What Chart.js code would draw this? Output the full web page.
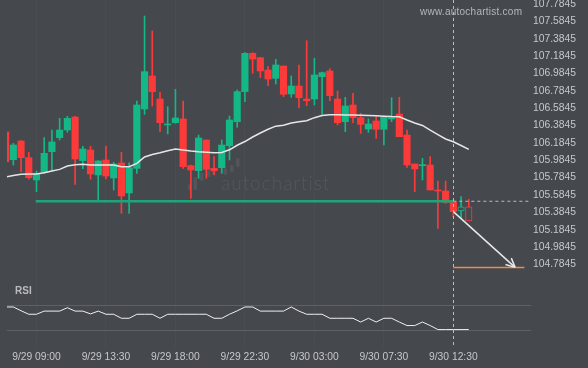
<!DOCTYPE html>
<html>
<head>
<meta charset="utf-8">
<script src="https://cdn.jsdelivr.net/npm/chart.js"></script>
<style>
  html, body { margin: 0; padding: 0; background: #45484d; }
  canvas { display: block; }
</style>
</head>
<body>
<canvas id="chart" width="588" height="368"></canvas>
<script>
// 30 minute candles, index 0 = first visible candle
const openV = [106.310, 105.991, 106.206, 106.014, 105.757, 105.845, 106.083, 106.245, 106.333, 106.483,
  105.980, 106.103, 105.815, 105.987, 105.780, 105.953, 105.607, 105.891, 106.575, 106.955,
  106.690, 106.391, 106.417, 106.460, 105.922, 105.864, 106.218, 105.891, 105.899, 106.152,
  106.429, 106.775, 107.216, 107.166, 107.024, 106.928, 107.070, 106.748, 106.840, 106.690,
  106.690, 106.947, 107.013, 106.690, 106.429, 106.621, 106.475, 106.344, 106.437, 106.341,
  106.460, 106.517, 106.275, 105.941, 105.922, 105.930, 105.642, 105.630, 105.507, 105.400,
  105.449];
const highV = [106.310, 106.179, 106.210, 106.076, 105.860, 106.245, 106.333, 106.467, 106.490, 106.490,
  106.145, 106.145, 105.980, 106.149, 105.960, 106.076, 105.956, 106.667, 107.646, 107.474,
  106.767, 106.602, 106.801, 106.667, 105.930, 106.275, 106.220, 106.026, 106.218, 106.494,
  106.794, 107.224, 107.224, 107.170, 107.063, 107.147, 107.070, 106.955, 107.082, 107.362,
  107.159, 107.000, 107.039, 106.782, 106.709, 106.755, 106.525, 106.460, 106.487, 106.494,
  106.705, 106.709, 106.333, 105.941, 106.006, 106.026, 105.745, 105.745, 105.510, 105.565,
  105.535];
const lowV = [105.968, 105.930, 105.853, 105.768, 105.622, 105.834, 105.864, 106.218, 106.306, 105.707,
  105.887, 105.765, 105.515, 105.768, 105.642, 105.373, 105.373, 105.834, 106.513, 106.609,
  106.314, 106.287, 106.410, 105.891, 105.546, 105.776, 105.776, 105.815, 105.834, 105.987,
  106.364, 106.659, 106.986, 106.936, 106.844, 106.863, 106.717, 106.709, 106.590, 106.613,
  106.621, 106.513, 106.671, 106.391, 106.314, 106.417, 106.294, 106.306, 106.237, 106.160,
  106.429, 106.256, 105.903, 105.622, 105.757, 105.642, 105.200, 105.488, 105.334, 105.316,
  105.285];
const closeV = [105.968, 106.160, 106.014, 105.784, 105.822, 106.064, 106.195, 106.333, 106.467, 105.999,
  106.114, 105.826, 105.976, 105.803, 105.941, 105.573, 105.899, 106.621, 107.005, 106.775,
  106.417, 106.402, 106.471, 105.910, 105.872, 106.241, 105.880, 105.864, 106.160, 106.448,
  106.775, 107.216, 107.151, 107.013, 106.920, 107.082, 106.744, 106.840, 106.705, 106.671,
  106.967, 106.993, 106.728, 106.417, 106.609, 106.475, 106.398, 106.402, 106.341, 106.487,
  106.475, 106.256, 105.930, 105.884, 105.930, 105.642, 105.630, 105.500, 105.392, 105.449,
  105.285];
const maV = [105.791, 105.809, 105.823, 105.825, 105.826, 105.841, 105.861, 105.879, 105.918, 105.932,
  105.937, 105.930, 105.930, 105.930, 105.929, 105.910, 105.910, 105.949, 106.022, 106.051,
  106.070, 106.094, 106.114, 106.103, 106.091, 106.082, 106.077, 106.071, 106.074, 106.105,
  106.157, 106.200, 106.252, 106.298, 106.341, 106.377, 106.388, 106.414, 106.427, 106.440,
  106.475, 106.500, 106.509, 106.508, 106.507, 106.506, 106.503, 106.500, 106.497, 106.492,
  106.488, 106.486, 106.448, 106.414, 106.385, 106.331, 106.280, 106.229, 106.198, 106.154,
  106.110];
const rsiV = [59.2, 59.2, 56.1, 53.2, 53.2, 55.8, 55.8, 55.8, 58.6, 55.8,
  55.8, 53.5, 55.8, 53.2, 53.2, 49.9, 49.9, 53.2, 53.2, 53.2,
  49.9, 53.2, 53.2, 53.2, 53.2, 53.2, 53.2, 49.9, 49.9, 53.2,
  56.0, 59.2, 59.2, 55.8, 55.8, 55.8, 55.8, 59.2, 55.8, 53.2,
  53.2, 53.2, 49.9, 49.9, 49.9, 49.9, 46.8, 49.9, 46.8, 49.9,
  49.9, 46.8, 43.9, 43.9, 46.8, 43.9, 40.6, 40.6, 40.6, 40.6,
  40.6];

const timeTicks = [4, 13, 22, 31, 40, 49, 58];
const timeLabels = ['9/29 09:00', '9/29 13:30', '9/29 18:00', '9/29 22:30', '9/30 03:00', '9/30 07:30', '9/30 12:30'];
const priceTicks = [104.7845, 104.9845, 105.1845, 105.3845, 105.5845, 105.7845, 105.9845, 106.1845,
  106.3845, 106.5845, 106.7845, 106.9845, 107.1845, 107.3845, 107.5845, 107.7845];
const rsiTicks = [40, 60];

const supportLevel = 105.512;
const supportFrom = 3.9;
const nowIndex = 58;
const targetLevel = 104.75;
const targetEnd = 67.2;
const arrowX = [58, 66];
const arrowY = [105.392, 104.75];

const BG = '#45484d';
const GREEN = '#14b887';
const RED = '#fd3a3a';
const TXT = '#c6c8cb';
const X_MIN = 0.18, X_MAX = 68.06;

const idx = openV.map((v, i) => i);
const candleColor = idx.map(i => closeV[i] >= openV[i] ? GREEN : RED);
const hollow = idx.map(i => i >= 59);

const tickFont = { family: 'Liberation Sans', size: 10.3 };

// keep the plot area edge-to-edge, labels may overflow it
const noPad = s => { s.paddingTop = 0; s.paddingBottom = 0; s.paddingLeft = 0; s.paddingRight = 0; };

const decor = {
  id: 'decor',
  beforeDatasetsDraw(chart) {
    const ctx = chart.ctx;
    ctx.save();
    // watermark logo + text
    ctx.fillStyle = '#52555a';
    [[188, 184, 190], [193.5, 177, 190], [200, 172, 181], [207, 170, 177], [212, 168, 175],
     [223.5, 168, 175], [230, 165, 172], [236, 158, 167]].forEach(b => {
      ctx.beginPath();
      ctx.roundRect(b[0], b[1], 3.5, b[2] - b[1], 1.5);
      ctx.fill();
    });
    ctx.fillStyle = '#55585d';
    ctx.font = '300 19px Lato';
    ctx.letterSpacing = '1px';
    ctx.textBaseline = 'alphabetic';
    ctx.fillText('autochartist', 221, 190);
    ctx.restore();
  },
  afterDatasetsDraw(chart) {
    const ctx = chart.ctx;
    const x = chart.scales.x, y = chart.scales.y, a = chart.chartArea;
    ctx.save();
    // current time marker
    const px = x.getPixelForValue(nowIndex);
    ctx.strokeStyle = '#b9bbbe';
    ctx.lineWidth = 1;
    ctx.setLineDash([3, 3]);
    ctx.beginPath();
    ctx.moveTo(Math.round(px) + 0.5, a.top);
    ctx.lineTo(Math.round(px) + 0.5, a.bottom);
    ctx.stroke();
    ctx.setLineDash([]);
    // arrow head
    const x0 = x.getPixelForValue(arrowX[0]), y0 = y.getPixelForValue(arrowY[0]);
    const x1 = x.getPixelForValue(arrowX[1]), y1 = y.getPixelForValue(arrowY[1]);
    const ang = Math.atan2(y1 - y0, x1 - x0);
    ctx.strokeStyle = '#e8e8e8';
    ctx.lineWidth = 1.5;
    ctx.beginPath();
    [0.45, -0.45].forEach(d => {
      ctx.moveTo(x1, y1);
      ctx.lineTo(x1 - 10 * Math.cos(ang + d), y1 - 10 * Math.sin(ang + d));
    });
    ctx.stroke();
    ctx.restore();
  },
  afterDraw(chart) {
    const ctx = chart.ctx;
    ctx.save();
    ctx.fillStyle = '#b4b7bb';
    ctx.font = '10px "Liberation Sans"';
    ctx.letterSpacing = '0.25px';
    ctx.textBaseline = 'middle';
    ctx.fillText('www.autochartist.com', 420, 12);
    ctx.letterSpacing = '0px';
    ctx.fillStyle = '#b9bbbf';
    ctx.font = 'bold 10px "Liberation Sans"';
    ctx.fillText('RSI', 15, 291);
    ctx.restore();
  }
};

const pts = (xs, ys) => xs.map((v, i) => ({ x: v, y: ys[i] }));

new Chart(document.getElementById('chart'), {
  type: 'bar',
  data: {
    datasets: [
      {
        type: 'line', data: maV.map((v, i) => ({ x: i, y: v })), yAxisID: 'y',
        borderColor: '#e6e6e6', borderWidth: 1.5, pointRadius: 0, order: 0
      },
      {
        type: 'line', data: rsiV.map((v, i) => ({ x: i, y: v })), yAxisID: 'rsi',
        borderColor: '#f0f0f0', borderWidth: 1, pointRadius: 0, order: 0
      },
      {
        type: 'line', data: pts([supportFrom, nowIndex], [supportLevel, supportLevel]), yAxisID: 'y',
        borderColor: '#1ea67b', borderWidth: 2.5, pointRadius: 0, order: 0
      },
      {
        type: 'line', data: pts([nowIndex, X_MAX], [supportLevel, supportLevel]), yAxisID: 'y',
        borderColor: '#b9bbbe', borderWidth: 1, borderDash: [3, 3], pointRadius: 0, order: 0
      },
      {
        type: 'line', data: pts([nowIndex, targetEnd], [targetLevel, targetLevel]), yAxisID: 'y',
        borderColor: '#ef8a4e', borderWidth: 1.5, pointRadius: 0, order: 0
      },
      {
        type: 'line', data: pts(arrowX, arrowY), yAxisID: 'y',
        borderColor: '#e8e8e8', borderWidth: 1.5, pointRadius: 0, order: 0
      },
      {
        data: idx.map(i => ({ x: i, y: [openV[i], closeV[i]] })), yAxisID: 'y',
        backgroundColor: idx.map(i => hollow[i] ? BG : candleColor[i]),
        borderColor: candleColor,
        borderWidth: idx.map(i => hollow[i] ? 1 : 0),
        borderSkipped: false, barThickness: 6.5, minBarLength: 1, grouped: false, order: 1
      },
      {
        data: idx.map(i => ({ x: i, y: [lowV[i], highV[i]] })), yAxisID: 'y',
        backgroundColor: candleColor, barThickness: 1, grouped: false, order: 2
      }
    ]
  },
  options: {
    responsive: false,
    animation: false,
    devicePixelRatio: 1,
    layout: { padding: { left: 7, top: 0, right: 0, bottom: 0 } },
    plugins: { legend: { display: false }, tooltip: { enabled: false } },
    scales: {
      x: {
        type: 'linear', min: X_MIN, max: X_MAX, offset: false,
        afterBuildTicks: s => { s.ticks = timeTicks.map(v => ({ value: v })); },
        afterFit: s => { s.height = 20; noPad(s); },
        ticks: {
          callback: v => timeLabels[timeTicks.indexOf(v)],
          color: TXT, font: tickFont, padding: 3, maxRotation: 0, autoSkip: false
        },
        grid: { color: 'rgba(255,255,255,0.025)', drawTicks: false, offset: false },
        border: { display: false }
      },
      rsi: {
        type: 'linear', position: 'right', weight: 0, min: 25.43, max: 311.85,
        afterBuildTicks: s => { s.ticks = rsiTicks.map(v => ({ value: v })); },
        afterFit: s => { s.width = 0; noPad(s); },
        ticks: { color: TXT, font: tickFont, padding: 2 },
        grid: { color: '#5d6065', drawTicks: false },
        border: { display: false }
      },
      y: {
        type: 'linear', position: 'right', weight: 1, min: 103.8214, max: 107.8306,
        afterBuildTicks: s => { s.ticks = priceTicks.map(v => ({ value: v })); },
        afterFit: s => { s.width = 57; noPad(s); },
        ticks: { callback: v => v.toFixed(4), color: TXT, font: tickFont, padding: 2, autoSkip: false },
        grid: { display: false, drawTicks: false },
        border: { display: false }
      }
    }
  },
  plugins: [decor]
});
</script>
</body>
</html>
